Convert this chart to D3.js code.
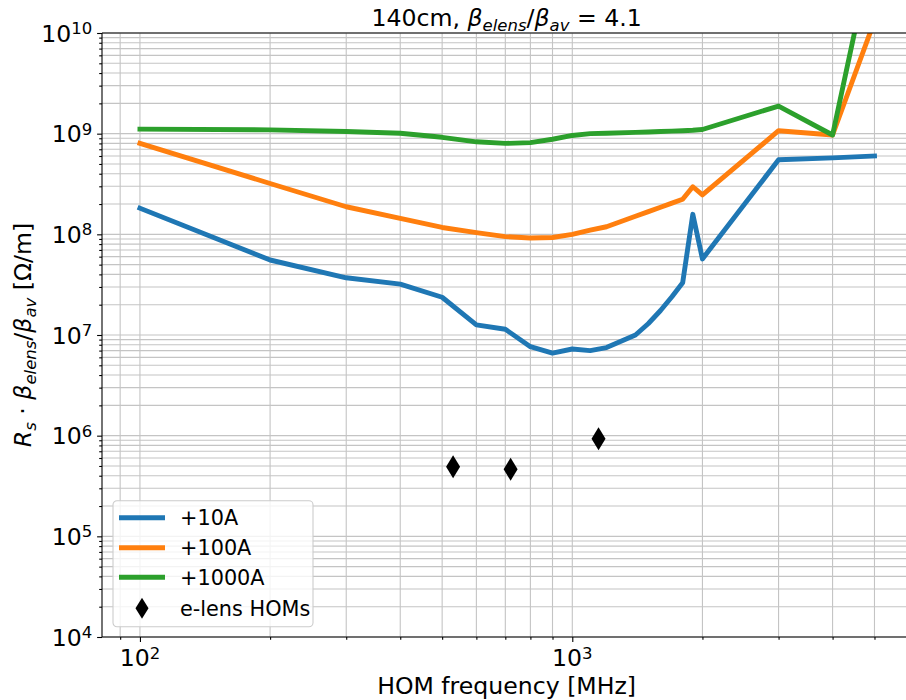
<!DOCTYPE html>
<html>
<head>
<meta charset="utf-8">
<script src="https://cdn.jsdelivr.net/npm/d3@7"></script>
<style>
  body { margin: 0; background: #fff; }
  svg { display: block; }
  text { font-family: "DejaVu Sans", sans-serif; fill: #000; }
</style>
</head>
<body>
<svg id="chart" width="906" height="700"></svg>
<script>
// HOM frequency grid [MHz]
const freqs = [100, 200, 300, 400, 500, 600, 700, 800, 900, 1000, 1100, 1200,
               1400, 1500, 1600, 1700, 1800, 1900, 2000, 3000, 4000, 5000];

// R_s * beta_elens / beta_av [Ohm/m] for each current offset
const rs10A = [1.82e8, 5.56e7, 3.7e7, 3.2e7, 2.37e7, 1.26e7, 1.14e7, 7.66e6, 6.6e6, 7.26e6, 7.0e6, 7.5e6,
               1.0e7, 1.3e7, 1.75e7, 2.4e7, 3.3e7, 1.58e8, 5.7e7, 5.5e8, 5.75e8, 6.0e8];
const rs100A = [8.0e8, 3.2e8, 1.88e8, 1.44e8, 1.17e8, 1.04e8, 9.5e7, 9.2e7, 9.3e7, 1.0e8, 1.1e8, 1.19e8,
                1.51e8, 1.68e8, 1.86e8, 2.04e8, 2.23e8, 2.97e8, 2.46e8, 1.07e9, 9.7e8, 1.32e10];
const rs1000A = [1.11e9, 1.09e9, 1.05e9, 1.01e9, 9.2e8, 8.3e8, 8.0e8, 8.15e8, 8.8e8, 9.6e8, 1.0e9, 1.01e9,
                 1.03e9, 1.04e9, 1.05e9, 1.06e9, 1.07e9, 1.08e9, 1.1e9, 1.88e9, 9.7e8, 8.5e10];

// e-lens higher order modes
const homFreqs = [530, 720, 1150];
const homRs = [4.9e5, 4.65e5, 9.3e5];

const seriesNames = ["+10A", "+100A", "+1000A"];
const markerName = "e-lens HOMs";

// axis limits and major tick exponents
const xLimits = [81.7, 6080];
const yLimits = [1e4, 1e10];
const xMajorExp = [2, 3];
const yMajorExp = [4, 5, 6, 7, 8, 9, 10];

const colors = ["#1f77b4", "#ff7f0e", "#2ca02c"];

const svg = d3.select("#chart");
const W = 906, H = 700;
const plot = { left: 102, top: 33, right: 911.2, bottom: 637 };
const FS = 23.6;      // main font size
const FS_SUP = 16.5;  // super/subscript size

const x = d3.scaleLog().domain(xLimits).range([plot.left, plot.right]);
const y = d3.scaleLog().domain(yLimits).range([plot.bottom, plot.top]);

svg.append("rect").attr("width", W).attr("height", H).attr("fill", "#fff");

// tick values: majors and minors (2..9 per decade) inside limits
function logTicks(lim) {
  const maj = [], min = [];
  const lo = Math.floor(Math.log10(lim[0])), hi = Math.ceil(Math.log10(lim[1]));
  for (let e = lo; e <= hi; e++) {
    const b = Math.pow(10, e);
    if (b >= lim[0] * 0.9999 && b <= lim[1] * 1.0001) maj.push(b);
    for (let k = 2; k <= 9; k++) {
      const v = k * b;
      if (v >= lim[0] && v <= lim[1]) min.push(v);
    }
  }
  return { maj, min };
}
const xt = logTicks(xLimits), yt = logTicks(yLimits);

// grid (major + minor)
const grid = svg.append("g").attr("stroke", "#c4c4c4").attr("stroke-width", 1.1);
grid.selectAll(".gx").data(xt.maj.concat(xt.min)).join("line")
  .attr("x1", d => x(d)).attr("x2", d => x(d))
  .attr("y1", plot.top).attr("y2", plot.bottom);
grid.selectAll(".gy").data(yt.maj.concat(yt.min)).join("line")
  .attr("y1", d => y(d)).attr("y2", d => y(d))
  .attr("x1", plot.left).attr("x2", plot.right);

// clip for data
svg.append("clipPath").attr("id", "plotclip").append("rect")
  .attr("x", plot.left).attr("y", plot.top)
  .attr("width", plot.right - plot.left).attr("height", plot.bottom - plot.top);

const line = d3.line().x(d => x(d[0])).y(d => y(d[1]));
const seriesData = [rs10A, rs100A, rs1000A];
const dataG = svg.append("g").attr("clip-path", "url(#plotclip)");
seriesData.forEach((vals, i) => {
  dataG.append("path")
    .datum(freqs.map((f, j) => [f, vals[j]]))
    .attr("d", line)
    .attr("fill", "none")
    .attr("stroke", colors[i])
    .attr("stroke-width", 4.9)
    .attr("stroke-linejoin", "round")
    .attr("stroke-linecap", "square");
});

// thin diamond marker
function diamond(cx, cy, hw, hh) {
  return `M${cx},${cy - hh}L${cx + hw},${cy}L${cx},${cy + hh}L${cx - hw},${cy}Z`;
}
dataG.selectAll(".hom").data(homFreqs.map((f, i) => [f, homRs[i]])).join("path")
  .attr("d", d => diamond(x(d[0]), y(d[1]), 7, 11.5))
  .attr("fill", "#000");

// axes
const xAxisMaj = d3.axisBottom(x).tickValues(xt.maj).tickSize(4.9).tickFormat("");
const xAxisMin = d3.axisBottom(x).tickValues(xt.min).tickSize(2.8).tickFormat("");
const yAxisMaj = d3.axisLeft(y).tickValues(yt.maj).tickSize(4.9).tickFormat("");
const yAxisMin = d3.axisLeft(y).tickValues(yt.min).tickSize(2.8).tickFormat("");

function styleAxis(g) {
  g.select(".domain").remove();
  g.selectAll(".tick line").attr("stroke", "#000").attr("stroke-width", 1.1);
}
svg.append("g").attr("transform", `translate(0,${plot.bottom})`).call(xAxisMaj).call(styleAxis);
svg.append("g").attr("transform", `translate(0,${plot.bottom})`).call(xAxisMin).call(styleAxis);
svg.append("g").attr("transform", `translate(${plot.left},0)`).call(yAxisMaj).call(styleAxis);
svg.append("g").attr("transform", `translate(${plot.left},0)`).call(yAxisMin).call(styleAxis);

// spines (right spine lies beyond the canvas)
const sp = svg.append("g").attr("stroke", "#000").attr("stroke-width", 1.1).attr("fill", "none");
sp.append("line").attr("x1", plot.left).attr("x2", plot.left).attr("y1", plot.top).attr("y2", plot.bottom);
sp.append("line").attr("x1", plot.left).attr("x2", plot.right).attr("y1", plot.bottom).attr("y2", plot.bottom);
sp.append("line").attr("x1", plot.left).attr("x2", plot.right).attr("y1", plot.top).attr("y2", plot.top);
sp.append("line").attr("x1", plot.right).attr("x2", plot.right).attr("y1", plot.top).attr("y2", plot.bottom);

// power-of-ten tick labels
function powLabel(sel, exp) {
  sel.append("tspan").text("10");
  sel.append("tspan").attr("font-size", FS_SUP).attr("dy", -7.5).text(String(exp));
}
xMajorExp.forEach(e => {
  const t = svg.append("text")
    .attr("x", x(Math.pow(10, e))).attr("y", 666)
    .attr("text-anchor", "middle").attr("font-size", FS);
  powLabel(t, e);
});
yMajorExp.forEach(e => {
  const t = svg.append("text")
    .attr("x", 92.2).attr("y", y(Math.pow(10, e)) + 8.6)
    .attr("text-anchor", "end").attr("font-size", FS);
  powLabel(t, e);
});

// title
const title = svg.append("text")
  .attr("x", (plot.left + plot.right) / 2).attr("y", 26)
  .attr("text-anchor", "middle").attr("font-size", FS);
title.append("tspan").text("140cm, ");
title.append("tspan").attr("font-style", "italic").text("β");
title.append("tspan").attr("font-style", "italic").attr("font-size", FS_SUP).attr("dy", 5).text("elens");
title.append("tspan").attr("dy", -5).text("/");
title.append("tspan").attr("font-style", "italic").text("β");
title.append("tspan").attr("font-style", "italic").attr("font-size", FS_SUP).attr("dy", 5).text("av");
title.append("tspan").attr("dy", -5).text(" = 4.1");

// x label
svg.append("text")
  .attr("x", (plot.left + plot.right) / 2).attr("y", 694)
  .attr("text-anchor", "middle").attr("font-size", FS)
  .text("HOM frequency [MHz]");

// y label
const yl = svg.append("text")
  .attr("transform", `translate(31,${(plot.top + plot.bottom) / 2}) rotate(-90)`)
  .attr("text-anchor", "middle").attr("font-size", FS);
yl.append("tspan").attr("font-style", "italic").text("R");
yl.append("tspan").attr("font-style", "italic").attr("font-size", FS_SUP).attr("dy", 5).text("s");
yl.append("tspan").attr("dy", -5).text(" · ");
yl.append("tspan").attr("font-style", "italic").text("β");
yl.append("tspan").attr("font-style", "italic").attr("font-size", FS_SUP).attr("dy", 5).text("elens");
yl.append("tspan").attr("dy", -5).text("/");
yl.append("tspan").attr("font-style", "italic").text("β");
yl.append("tspan").attr("font-style", "italic").attr("font-size", FS_SUP).attr("dy", 5).text("av");
yl.append("tspan").attr("dy", -5).text(" [Ω/m]");

// legend
const lg = svg.append("g").attr("transform", "translate(113,500.7)");
lg.append("rect").attr("width", 200).attr("height", 126).attr("rx", 4)
  .attr("fill", "#fff").attr("fill-opacity", 0.8)
  .attr("stroke", "#cccccc").attr("stroke-width", 1.1);
const rowY = [17, 47, 76.6, 107.6];
seriesNames.forEach((name, i) => {
  lg.append("line").attr("x1", 6).attr("x2", 52).attr("y1", rowY[i]).attr("y2", rowY[i])
    .attr("stroke", colors[i]).attr("stroke-width", 4.9);
  lg.append("text").attr("x", 67).attr("y", rowY[i]).attr("dy", "0.36em")
    .attr("font-size", 20.8).text(name);
});
lg.append("path").attr("d", diamond(29, rowY[3], 6.5, 10.5)).attr("fill", "#000");
lg.append("text").attr("x", 67).attr("y", rowY[3]).attr("dy", "0.36em")
  .attr("font-size", 20.8).text(markerName);
</script>
</body>
</html>
